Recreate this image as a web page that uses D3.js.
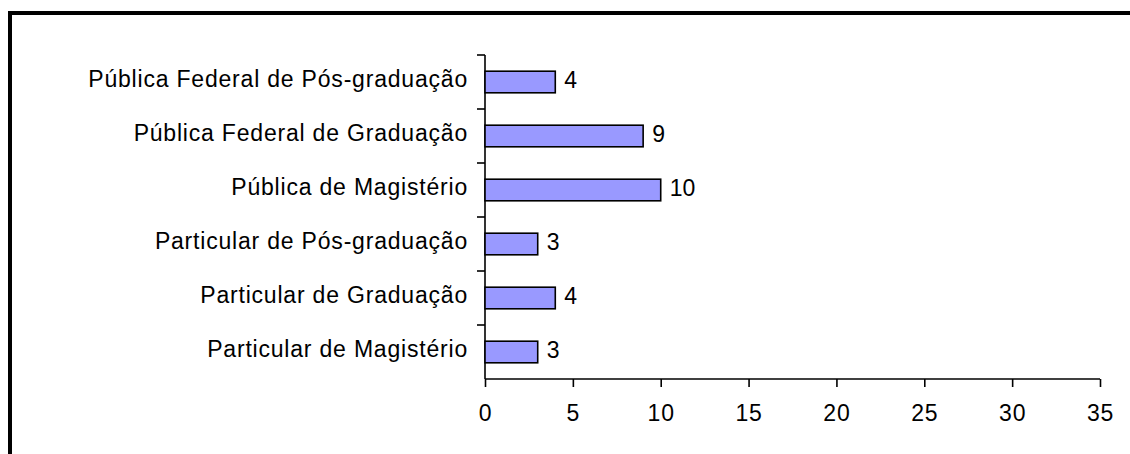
<!DOCTYPE html>
<html>
<head>
<meta charset="utf-8">
<script src="https://cdn.jsdelivr.net/npm/d3@7"></script>
<style>
	body { margin: 0; background: #fff; }
	text { font-family: "Liberation Sans", Arial, sans-serif; fill: #000; }
</style>
</head>
<body>
<div class="chart"></div>
<script>
// categories top to bottom, as in the picture
let categories = [
	'Pública Federal de Pós-graduação',
	'Pública Federal de Graduação',
	'Pública de Magistério',
	'Particular de Pós-graduação',
	'Particular de Graduação',
	'Particular de Magistério'
];
let values = [4, 9, 10, 3, 4, 3];
let xTicks = [0, 5, 10, 15, 20, 25, 30, 35];

let fullWidth = 1130;
let fullHeight = 454;
let margin = {top: 55, left: 485};
let width = 615;
let height = 324;

let svg = d3.select('.chart')
	.append('svg')
	.attr('width', fullWidth)
	.attr('height', fullHeight);

// outer frame (right and bottom run off the picture)
svg.append('rect')
	.attr('x', 10)
	.attr('y', 13)
	.attr('width', 1300)
	.attr('height', 600)
	.style('fill', 'none')
	.style('stroke', '#000')
	.style('stroke-width', 4);

let g = svg.append('g')
	.attr('transform', 'translate(' + margin.left + ', ' + margin.top + ')');

let xScale = d3.scaleLinear()
	.domain([0, 35])
	.range([0, width]);

let yScale = d3.scaleBand()
	.domain(categories)
	.range([0, height])
	.paddingInner(0.6)
	.paddingOuter(0.3);

// x axis
let xAxis = g.append('g')
	.attr('transform', 'translate(0, ' + height + ')')
	.call(d3.axisBottom(xScale).tickValues(xTicks).tickSize(8).tickPadding(18));
xAxis.select('.domain').attr('d', 'M0,0H' + width);

// y axis with ticks between the categories
let yAxis = g.append('g');
yAxis.append('line')
	.attr('x1', 0).attr('x2', 0)
	.attr('y1', 0).attr('y2', height)
	.style('stroke', '#000');
let step = yScale.step();
yAxis.selectAll('.ytick')
	.data(categories)
	.enter()
	.append('line')
	.attr('class', 'ytick')
	.attr('x1', -8).attr('x2', 0)
	.attr('y1', d => yScale(d) - yScale.paddingOuter() * step)
	.attr('y2', d => yScale(d) - yScale.paddingOuter() * step)
	.style('stroke', '#000');

g.selectAll('.domain, .tick line, .ytick, line')
	.style('stroke', '#000')
	.style('stroke-width', 1.6);

xAxis.selectAll('text')
	.style('font-size', '23px')
	.style('font-family', '"Liberation Sans", Arial, sans-serif')
	.style('letter-spacing', '0.8px');

// category labels
g.selectAll('.cat')
	.data(categories)
	.enter()
	.append('text')
	.attr('class', 'cat')
	.attr('x', -17)
	.attr('y', d => yScale(d) + yScale.bandwidth() / 2 - 3)
	.attr('dy', '0.35em')
	.attr('text-anchor', 'end')
	.style('font-size', '23px')
	.style('letter-spacing', '0.8px')
	.text(d => d);

// bars
g.selectAll('.bar')
	.data(values)
	.enter()
	.append('rect')
	.attr('class', 'bar')
	.attr('x', 0)
	.attr('y', (d, i) => yScale(categories[i]))
	.attr('width', d => xScale(d))
	.attr('height', yScale.bandwidth())
	.style('fill', '#9999FF')
	.style('stroke', '#000')
	.style('stroke-width', 1.6);

// value labels
g.selectAll('.val')
	.data(values)
	.enter()
	.append('text')
	.attr('class', 'val')
	.attr('x', d => xScale(d) + 9)
	.attr('y', (d, i) => yScale(categories[i]) + yScale.bandwidth() / 2 - 2)
	.attr('dy', '0.35em')
	.style('font-size', '23px')
	.text(d => d);
</script>
</body>
</html>
